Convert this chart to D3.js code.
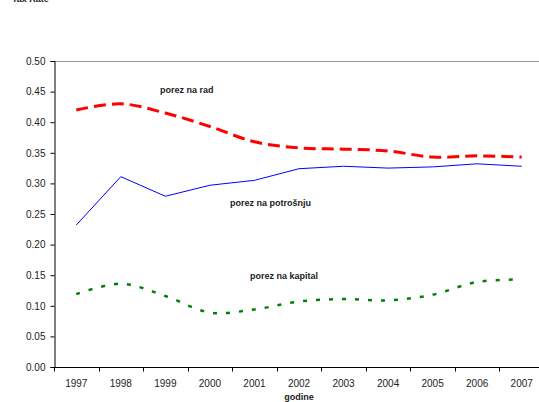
<!DOCTYPE html>
<html>
<head>
<meta charset="utf-8">
<script src="https://cdn.jsdelivr.net/npm/d3@7"></script>
<style>
  body { margin: 0; background: #fff; }
  svg { display: block; font-family: "Liberation Sans", Arial, sans-serif; }
</style>
</head>
<body>
<div id="chart"></div>
<script>
var years = ["1997","1998","1999","2000","2001","2002","2003","2004","2005","2006","2007"];
var porezNaRad = [0.420, 0.430, 0.415, 0.393, 0.368, 0.358, 0.356, 0.353, 0.343, 0.345, 0.343];
var porezNaPotrosnju = [0.232, 0.311, 0.279, 0.297, 0.305, 0.324, 0.328, 0.325, 0.327, 0.332, 0.328];
var porezNaKapital = [0.119, 0.136, 0.116, 0.089, 0.094, 0.107, 0.111, 0.109, 0.118, 0.139, 0.143];
var yTicks = [0, 0.05, 0.10, 0.15, 0.20, 0.25, 0.30, 0.35, 0.40, 0.45, 0.50];

window.onload = () => {
  var width = 539, height = 402;
  var left = 54, right = 544, top = 61, bottom = 367;

  var svg = d3.select("#chart").append("svg")
    .attr("width", width)
    .attr("height", height);

  var x = d3.scaleBand().domain(years).range([left, right]);
  var y = d3.scaleLinear().domain([0, 0.5]).range([bottom, top]);

  // title, cut off at the top edge like in the original
  svg.append("text")
    .attr("x", 12).attr("y", 2)
    .attr("font-size", 9).attr("font-weight", "bold")
    .attr("fill", "#222")
    .text("Tax Rate");

  // top border of plot area
  svg.append("line")
    .attr("x1", left).attr("x2", right)
    .attr("y1", top + 0.5).attr("y2", top + 0.5)
    .attr("stroke", "#999").attr("stroke-width", 1);

  // y axis
  var yAxis = svg.append("g")
    .attr("transform", "translate(" + (left + 0.5) + ",0)")
    .call(d3.axisLeft(y).tickValues(yTicks).tickFormat(d3.format(".2f")).tickSizeOuter(0).tickSize(4).tickPadding(5));
  yAxis.select(".domain").attr("stroke", "#000");
  yAxis.selectAll("text").attr("font-size", 10).attr("fill", "#222").attr("font-family", "Liberation Sans, Arial, sans-serif");

  // x axis: ticks between categories
  var xAxis = svg.append("g")
    .attr("transform", "translate(0," + (bottom + 0.5) + ")");
  xAxis.append("line")
    .attr("x1", left).attr("x2", right)
    .attr("stroke", "#000");
  xAxis.selectAll(".tick")
    .data(years.concat(["end"]))
    .enter().append("line")
    .attr("x1", (d, i) => Math.round(left + i * x.step()) + 0.5)
    .attr("x2", (d, i) => Math.round(left + i * x.step()) + 0.5)
    .attr("y1", 0).attr("y2", 4)
    .attr("stroke", "#000");
  xAxis.selectAll("text")
    .data(years)
    .enter().append("text")
    .attr("x", d => x(d) + x.bandwidth() / 2)
    .attr("y", 19)
    .attr("text-anchor", "middle")
    .attr("font-size", 10).attr("fill", "#222")
    .text(d => d);

  svg.append("text")
    .attr("x", (left + right) / 2).attr("y", 400)
    .attr("text-anchor", "middle")
    .attr("font-size", 9).attr("font-weight", "bold").attr("fill", "#222")
    .text("godine");

  var cx = (d, i) => x(years[i]) + x.bandwidth() / 2;

  var smooth = d3.line().x(cx).y(d => y(d)).curve(d3.curveCatmullRom.alpha(0.5));
  var straight = d3.line().x(cx).y(d => y(d));

  svg.append("path")
    .attr("d", smooth(porezNaRad))
    .attr("fill", "none")
    .attr("stroke", "#ff0000")
    .attr("stroke-width", 3)
    .attr("stroke-dasharray", "12,6");

  svg.append("path")
    .attr("d", straight(porezNaPotrosnju))
    .attr("fill", "none")
    .attr("stroke", "#0000ff")
    .attr("stroke-width", 1);

  svg.append("path")
    .attr("d", smooth(porezNaKapital))
    .attr("fill", "none")
    .attr("stroke", "#008000")
    .attr("stroke-width", 2.5)
    .attr("stroke-dasharray", "4,9");

  var labels = [
    { text: "porez na rad", x: 160, y: 93 },
    { text: "porez na potrošnju", x: 230, y: 206 },
    { text: "porez na kapital", x: 250, y: 279 }
  ];
  svg.selectAll(".lbl")
    .data(labels)
    .enter().append("text")
    .attr("class", "lbl")
    .attr("x", d => d.x).attr("y", d => d.y)
    .attr("font-size", 9).attr("font-weight", "bold").attr("fill", "#222")
    .text(d => d.text);
}
</script>
</body>
</html>
